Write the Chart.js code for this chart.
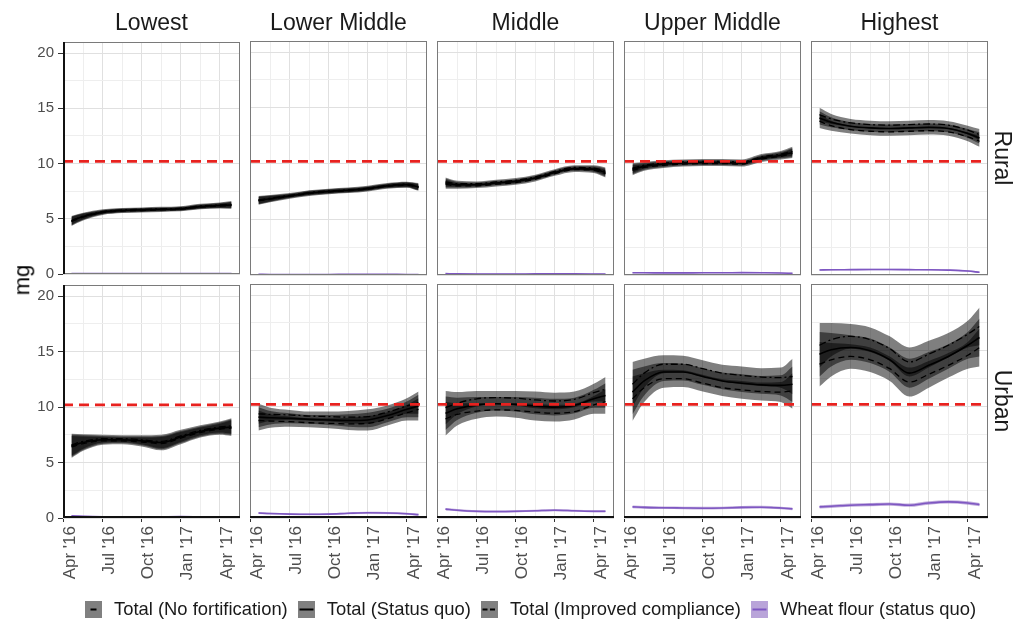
<!DOCTYPE html>
<html>
<head>
<meta charset="utf-8">
<script src="https://cdn.jsdelivr.net/npm/chart.js@4.4.0/dist/chart.umd.min.js"></script>
<style>
  body { margin: 0; background: #fff; font-family: "Liberation Sans", Arial, sans-serif; }
  #page { position: relative; width: 1019px; height: 627px; overflow: hidden; }
  #page canvas { position: absolute; }
  .strip { position: absolute; font-size: 23px; color: #1a1a1a; text-align: center; line-height: 26px; white-space: nowrap; }
  .rowstrip { position: absolute; font-size: 23px; color: #1a1a1a; line-height: 26px; transform: rotate(90deg); transform-origin: center; white-space: nowrap; }
  #ytitle { position: absolute; font-size: 22px; color: #000; transform: rotate(-90deg); line-height: 24px; }
  #legend { position: absolute; left: 85px; top: 598px; display: flex; align-items: center; font-size: 18.4px; color: #1a1a1a; white-space: nowrap; }
  #legend .item { display: flex; align-items: center; margin-right: 10px; }
  #legend svg { margin-right: 12px; }
</style>
</head>
<body>
<div id="page"></div>
<script>
const incomeGroups = ["Lowest", "Lower Middle", "Middle", "Upper Middle", "Highest"];
const areas = ["Rural", "Urban"];
// months since 1 April 2016
const months = [0.6, 1.5, 3, 4.5, 6, 7.5, 9, 10.5, 12, 12.9];
const tickLabels = ["Apr '16", "Jul '16", "Oct '16", "Jan '17", "Apr '17"];
const referenceIntake = 10.2;

// rural, one row per income group
const ruralStatusQuo = [
  [4.8, 5.2, 5.6, 5.75, 5.8, 5.85, 5.9, 6.1, 6.2, 6.25],
  [6.7, 6.85, 7.1, 7.35, 7.5, 7.6, 7.75, 8.0, 8.1, 7.9],
  [8.25, 8.1, 8.1, 8.25, 8.4, 8.7, 9.2, 9.55, 9.5, 9.2],
  [9.5, 9.75, 9.95, 10.05, 10.1, 10.1, 10.05, 10.5, 10.75, 11.0],
  [14.1, 13.7, 13.35, 13.2, 13.15, 13.2, 13.25, 13.15, 12.7, 12.3]
];
const ruralNoFort = [
  [4.75, 5.15, 5.55, 5.7, 5.75, 5.8, 5.85, 6.05, 6.15, 6.2],
  [6.65, 6.8, 7.05, 7.3, 7.45, 7.55, 7.7, 7.95, 8.05, 7.85],
  [8.15, 8.0, 8.0, 8.15, 8.3, 8.6, 9.1, 9.45, 9.4, 9.1],
  [9.4, 9.65, 9.85, 9.95, 10.0, 10.0, 9.95, 10.4, 10.65, 10.9],
  [13.8, 13.4, 13.05, 12.9, 12.85, 12.9, 12.95, 12.85, 12.4, 12.0]
];
const ruralImproved = [
  [4.85, 5.25, 5.65, 5.8, 5.85, 5.9, 5.95, 6.15, 6.25, 6.3],
  [6.75, 6.9, 7.15, 7.4, 7.55, 7.65, 7.8, 8.05, 8.15, 7.95],
  [8.35, 8.2, 8.2, 8.35, 8.5, 8.8, 9.3, 9.65, 9.6, 9.3],
  [9.6, 9.85, 10.05, 10.15, 10.2, 10.2, 10.15, 10.6, 10.85, 11.1],
  [14.4, 14.0, 13.65, 13.5, 13.45, 13.5, 13.55, 13.45, 13.0, 12.6]
];
const ruralSpread = [
  [0.4, 0.3, 0.2, 0.18, 0.18, 0.18, 0.18, 0.2, 0.22, 0.3],
  [0.35, 0.28, 0.2, 0.2, 0.2, 0.2, 0.2, 0.2, 0.22, 0.3],
  [0.4, 0.25, 0.2, 0.2, 0.2, 0.2, 0.2, 0.2, 0.25, 0.35],
  [0.45, 0.3, 0.25, 0.22, 0.22, 0.22, 0.22, 0.25, 0.28, 0.4],
  [0.6, 0.45, 0.35, 0.35, 0.35, 0.35, 0.35, 0.35, 0.4, 0.5]
];
const ruralWheat = [
  [0.05, 0.04, 0.04, 0.04, 0.04, 0.05, 0.05, 0.05, 0.04, 0.04],
  [0.06, 0.05, 0.05, 0.05, 0.05, 0.06, 0.06, 0.06, 0.05, 0.05],
  [0.12, 0.1, 0.09, 0.09, 0.09, 0.1, 0.1, 0.1, 0.09, 0.08],
  [0.2, 0.2, 0.19, 0.19, 0.2, 0.2, 0.21, 0.2, 0.18, 0.15],
  [0.45, 0.47, 0.48, 0.49, 0.49, 0.48, 0.47, 0.44, 0.36, 0.24]
];
const ruralWheatSpread = [0.03, 0.03, 0.04, 0.05, 0.06];

// urban
const urbanStatusQuo = [
  [6.5, 6.8, 7.05, 7.05, 6.95, 6.8, 7.3, 7.8, 8.1, 8.2],
  [9.05, 9.0, 8.95, 8.85, 8.8, 8.75, 8.8, 9.2, 9.75, 10.05],
  [9.4, 9.8, 10.15, 10.25, 10.2, 10.05, 9.95, 10.1, 10.7, 11.0],
  [11.3, 12.3, 13.1, 13.1, 12.7, 12.3, 12.1, 11.95, 11.9, 12.0],
  [14.7, 15.1, 15.3, 15.0, 14.2, 13.0, 13.7, 14.5, 15.5, 16.2]
];
const urbanNoFort = [
  [6.4, 6.7, 6.95, 6.95, 6.85, 6.7, 7.2, 7.7, 8.0, 8.1],
  [8.75, 8.7, 8.65, 8.55, 8.5, 8.45, 8.5, 8.9, 9.45, 9.75],
  [8.9, 9.3, 9.6, 9.7, 9.65, 9.5, 9.4, 9.55, 10.15, 10.45],
  [10.7, 11.7, 12.5, 12.5, 12.1, 11.7, 11.5, 11.35, 11.3, 11.4],
  [13.8, 14.2, 14.5, 14.2, 13.4, 12.2, 12.9, 13.7, 14.6, 15.3]
];
const urbanImproved = [
  [6.6, 6.9, 7.15, 7.15, 7.05, 6.9, 7.4, 7.9, 8.2, 8.3],
  [9.35, 9.3, 9.25, 9.15, 9.1, 9.05, 9.1, 9.5, 10.05, 10.35],
  [9.9, 10.3, 10.7, 10.8, 10.75, 10.6, 10.5, 10.65, 11.25, 11.55],
  [12.0, 13.0, 13.8, 13.8, 13.4, 13.0, 12.8, 12.65, 12.6, 12.7],
  [15.5, 16.0, 16.3, 16.0, 15.2, 14.0, 14.7, 15.5, 16.5, 17.2]
];
const urbanSpread = [
  [1.0, 0.65, 0.35, 0.3, 0.4, 0.6, 0.55, 0.45, 0.5, 0.7],
  [0.9, 0.6, 0.45, 0.4, 0.45, 0.55, 0.65, 0.6, 0.7, 1.0],
  [1.5, 1.0, 0.7, 0.6, 0.65, 0.75, 0.75, 0.7, 0.8, 1.1],
  [2.0, 1.3, 0.8, 0.75, 0.75, 0.75, 0.8, 0.8, 0.9, 1.6],
  [2.0, 1.5, 1.1, 1.1, 1.1, 1.3, 1.2, 1.1, 1.2, 1.7]
];
const urbanWheat = [
  [0.2, 0.15, 0.1, 0.08, 0.08, 0.1, 0.12, 0.1, 0.08, 0.08],
  [0.45, 0.4, 0.35, 0.33, 0.35, 0.42, 0.47, 0.45, 0.38, 0.3],
  [0.8, 0.7, 0.6, 0.58, 0.6, 0.65, 0.7, 0.65, 0.6, 0.6],
  [1.0, 0.95, 0.92, 0.9, 0.88, 0.9, 0.95, 0.97, 0.9, 0.82],
  [1.0, 1.05, 1.15, 1.2, 1.25, 1.15, 1.35, 1.45, 1.35, 1.2]
];
const urbanWheatSpread = [0.06, 0.08, 0.1, 0.12, 0.15];

const legendLabels = ["Total (No fortification)", "Total (Status quo)", "Total (Improved compliance)", "Wheat flour (status quo)"];

const rowData = [
  { sq: ruralStatusQuo, nf: ruralNoFort, ic: ruralImproved, sp: ruralSpread, wf: ruralWheat, ws: ruralWheatSpread },
  { sq: urbanStatusQuo, nf: urbanNoFort, ic: urbanImproved, sp: urbanSpread, wf: urbanWheat, ws: urbanWheatSpread }
];

// panel geometry
const xMin = -0.05, xMax = 13.55;
const panelLeft = [63, 250, 437, 624, 811];
const panelTop = [41, 284];
const panelW = 177, panelH = 234;

const ribbonFill = "rgba(0,0,0,0.5)";
const wheatColor = "#7e57c2";
const wheatFill = "rgba(115,71,177,0.45)";
const majorGrid = "#e0e0e0";
const minorGrid = "#eeeeee";

const page = document.getElementById("page");

function pts(vals) {
  return months.map((m, i) => ({ x: m, y: vals[i] }));
}
function shifted(vals, spread, sign) {
  return months.map((m, i) => ({ x: m, y: vals[i] + sign * (Array.isArray(spread) ? spread[i] : spread) }));
}

function ribbon(vals, spread, fill) {
  const base = { borderColor: "transparent", borderWidth: 1, pointRadius: 0, cubicInterpolationMode: "monotone", order: 3 };
  return [
    Object.assign({ data: shifted(vals, spread, 1), fill: "+1", backgroundColor: fill }, base),
    Object.assign({ data: shifted(vals, spread, -1), fill: false }, base)
  ];
}

function line(vals, color, width, dash) {
  return { data: pts(vals), borderColor: color, borderWidth: width, borderDash: dash, pointRadius: 0,
    cubicInterpolationMode: "monotone", fill: false, order: 1 };
}

function makePanel(row, col) {
  const d = rowData[row];
  // room round the panel so tick labels never squeeze the plot area
  const padL = col === 0 ? 63 : 12;
  const padT = 12, padR = 30;
  const padB = row === 1 ? 100 : 12;

  const canvas = document.createElement("canvas");
  canvas.width = padL + panelW + padR;
  canvas.height = padT + panelH + padB;
  canvas.style.left = (panelLeft[col] - padL) + "px";
  canvas.style.top = (panelTop[row] - padT) + "px";
  page.appendChild(canvas);

  const datasets = [
    { data: [{ x: xMin, y: referenceIntake }, { x: xMax, y: referenceIntake }], borderColor: "#e8221f",
      borderWidth: 2.8, borderDash: [10, 6], pointRadius: 0, fill: false, order: 0 },
    line(d.sq[col], "#000", 1.6, []),
    line(d.nf[col], "#000", 1.3, [6, 4]),
    line(d.ic[col], "#000", 1.3, [7, 3, 2, 3]),
    line(d.wf[col], wheatColor, 1.6, []),
    ...ribbon(d.nf[col], d.sp[col], ribbonFill),
    ...ribbon(d.sq[col], d.sp[col], ribbonFill),
    ...ribbon(d.ic[col], d.sp[col], ribbonFill),
    ...ribbon(d.wf[col], d.ws[col], wheatFill)
  ];

  const frame = {
    id: "frame",
    afterDraw(chart) {
      const { ctx, chartArea: a } = chart;
      ctx.save();
      ctx.strokeStyle = "#7a7a7a";
      ctx.lineWidth = 1;
      ctx.strokeRect(a.left + 0.5, a.top + 0.5, a.width - 1, a.height - 1);
      ctx.strokeStyle = "#111";
      ctx.lineWidth = 2;
      ctx.beginPath();
      if (col === 0) { ctx.moveTo(a.left + 1, a.top); ctx.lineTo(a.left + 1, a.bottom); }
      if (row === 1) { ctx.moveTo(a.left, a.bottom - 1); ctx.lineTo(a.right, a.bottom - 1); }
      ctx.stroke();
      ctx.restore();
    }
  };

  new Chart(canvas, {
    type: "line",
    data: { datasets },
    options: {
      responsive: false,
      animation: false,
      devicePixelRatio: 1,
      layout: { padding: { top: padT, right: padR, left: 0, bottom: 0 } },
      plugins: { legend: { display: false }, tooltip: { enabled: false } },
      scales: {
        x: {
          type: "linear", min: xMin, max: xMax,
          afterFit: (s) => { s.height = padB; },
          border: { display: false },
          grid: {
            color: (c) => (c.tick && c.tick.value % 3 === 0 ? majorGrid : minorGrid),
            tickColor: (c) => (c.tick && c.tick.value % 3 === 0 ? "#333" : "transparent"),
            tickLength: 4,
            drawTicks: row === 1
          },
          ticks: {
            display: row === 1, stepSize: 1.5, includeBounds: false, autoSkip: false,
            minRotation: 90, maxRotation: 90, padding: 4, labelOffset: 7,
            color: "#4d4d4d", font: { family: "Liberation Sans", size: 17 },
            callback: (v) => (v % 3 === 0 ? tickLabels[v / 3] : "")
          }
        },
        y: {
          type: "linear", min: 0, max: 21,
          afterFit: (s) => { s.width = padL; },
          border: { display: false },
          grid: {
            color: (c) => (c.tick && c.tick.value % 5 === 0 ? majorGrid : minorGrid),
            tickColor: (c) => (c.tick && c.tick.value % 5 === 0 ? "#333" : "transparent"),
            tickLength: 5,
            drawTicks: col === 0
          },
          ticks: {
            display: col === 0, stepSize: 2.5, includeBounds: false, autoSkip: false, padding: 4,
            color: "#4d4d4d", font: { family: "Liberation Sans", size: 15 },
            callback: (v) => (v % 5 === 0 ? String(v) : "")
          }
        }
      }
    },
    plugins: [frame]
  });
}

for (let r = 0; r < areas.length; r++) {
  for (let c = 0; c < incomeGroups.length; c++) makePanel(r, c);
}

// facet strips
incomeGroups.forEach((g, c) => {
  const el = document.createElement("div");
  el.className = "strip";
  el.textContent = g;
  el.style.left = panelLeft[c] + "px";
  el.style.width = panelW + "px";
  el.style.top = "9px";
  page.appendChild(el);
});
areas.forEach((a, r) => {
  const el = document.createElement("div");
  el.className = "rowstrip";
  el.textContent = a;
  el.style.width = "80px";
  el.style.textAlign = "center";
  el.style.left = (1003 - 40) + "px";
  el.style.top = (panelTop[r] + panelH / 2 - 13) + "px";
  page.appendChild(el);
});

const yTitle = document.createElement("div");
yTitle.id = "ytitle";
yTitle.textContent = "mg";
yTitle.style.left = "7px";
yTitle.style.top = "268px";
page.appendChild(yTitle);

// legend keys: ribbon fill with the line style drawn across it
const keyLines = [
  '<line x1="5.5" y1="8.5" x2="11.5" y2="8.5" stroke="#000" stroke-width="2"/>',
  '<line x1="1.5" y1="8.5" x2="15.5" y2="8.5" stroke="#000" stroke-width="2"/>',
  '<line x1="1.5" y1="8.5" x2="15.5" y2="8.5" stroke="#000" stroke-width="2" stroke-dasharray="5 2.5"/>',
  '<line x1="1.5" y1="8.5" x2="15.5" y2="8.5" stroke="' + wheatColor + '" stroke-width="2"/>'
];
const keyFills = ["#808080", "#808080", "#808080", "#b9a4d9"];
const legend = document.createElement("div");
legend.id = "legend";
legendLabels.forEach((lab, i) => {
  const item = document.createElement("div");
  item.className = "item";
  item.innerHTML = '<svg width="17" height="17"><rect width="17" height="17" fill="' + keyFills[i] + '"/>' +
    keyLines[i] + "</svg><span>" + lab + "</span>";
  legend.appendChild(item);
});
page.appendChild(legend);
</script>
</body>
</html>
